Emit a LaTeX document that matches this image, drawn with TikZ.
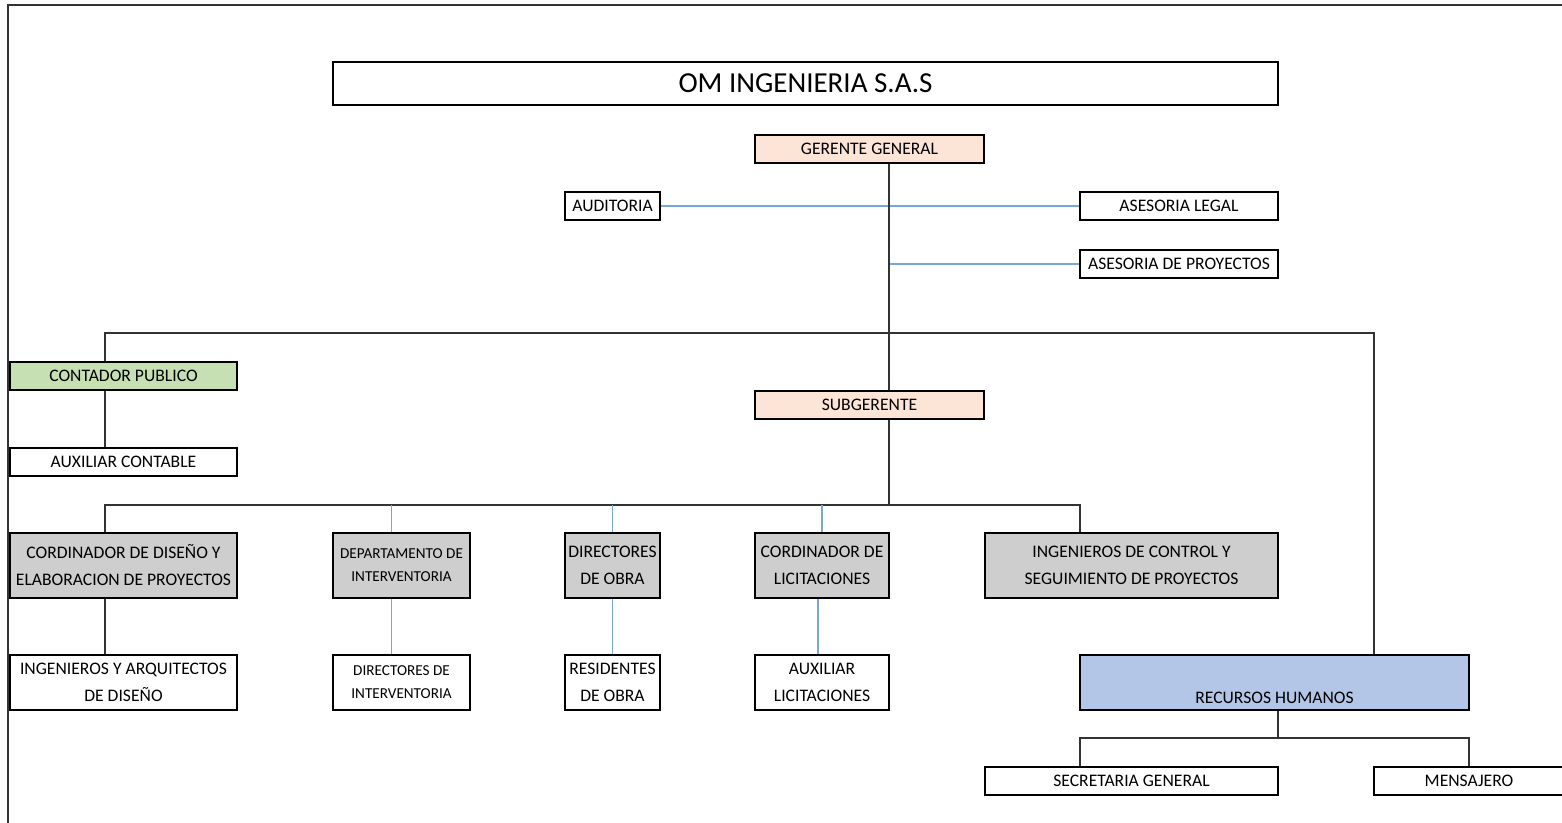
\documentclass[tikz,border=0pt]{standalone}
\usepackage{fontspec}
\setmainfont{Carlito}
\usepackage{tikz}
\usetikzlibrary{calc}
\usetikzlibrary{positioning}

\definecolor{peach}{RGB}{252,228,214}
\definecolor{leafgreen}{RGB}{198,224,180}
\definecolor{hrblue}{RGB}{180,198,231}
\definecolor{unitgray}{RGB}{206,206,206}
\definecolor{linkblue}{RGB}{120,168,218}

\begin{document}
\begin{tikzpicture}[x=0.5pt, y=-0.5pt,
  orgbox/.style={rectangle, draw=black, line width=1.4pt, inner sep=0pt, align=center,
    text=black, font=\fontsize{8.8}{13.5}\selectfont, minimum height=14pt},
  tallbox/.style={orgbox, minimum height=32.5pt},
  lowbox/.style={orgbox, minimum height=27.5pt},
  smalltext/.style={font=\fontsize{7.6}{11.5}\selectfont},
  tree/.style={draw=black!80, line width=0.6pt},
  link/.style={draw=linkblue, line width=0.6pt}]
 \useasboundingbox (0,0) rectangle (1562,823);
 % frame
 \draw [line width=1pt, black!80] (1570,5) -- (8,5) -- (8,830);
 % top levels
 \node [orgbox, minimum width=472.5pt, minimum height=21.5pt, font=\fontsize{14.5}{16}\selectfont] (title) at (805.5,83.5) {OM INGENIERIA S.A.S};
 \node [orgbox, fill=peach, minimum width=114.5pt] (gg) at (869.5,149) {GERENTE GENERAL};
 \node [orgbox, minimum width=47.5pt] (aud) at (612.5,206) {AUDITORIA};
 \node [orgbox, minimum width=99pt] (legal) at (1179,206) {ASESORIA LEGAL};
 \node [orgbox, minimum width=99pt] (aproy) at (1179,264) {ASESORIA DE PROYECTOS};
 \node [orgbox, fill=leafgreen, minimum width=113.5pt] (cont) at (123.5,376) {CONTADOR PUBLICO};
 \node [orgbox, minimum width=113.5pt] (auxc) at (123.5,462) {AUXILIAR CONTABLE};
 \node [orgbox, fill=peach, minimum width=114.5pt] (sub) at (869.5,405) {SUBGERENTE};
 % coordinators
 \node [tallbox, fill=unitgray, minimum width=113.5pt] (cdis) at (123.5,565.5) {CORDINADOR DE DISEÑO Y\\ELABORACION DE PROYECTOS};
 \node [tallbox, smalltext, fill=unitgray, minimum width=68.5pt] (dint) at (401.5,565.5) {DEPARTAMENTO DE\\INTERVENTORIA};
 \node [tallbox, fill=unitgray, minimum width=47.5pt] (dobra) at (612.5,565.5) {DIRECTORES\\DE OBRA};
 \node [tallbox, fill=unitgray, minimum width=67pt] (clic) at (822,565.5) {CORDINADOR DE\\LICITACIONES};
 \node [tallbox, fill=unitgray, minimum width=146.5pt] (ictrl) at (1131.5,565.5) {INGENIEROS DE CONTROL Y\\SEGUIMIENTO DE PROYECTOS};
 % staff
 \node [lowbox, minimum width=113.5pt] (iarq) at (123.5,682.5) {INGENIEROS Y ARQUITECTOS\\DE DISEÑO};
 \node [lowbox, smalltext, minimum width=68.5pt] (dirint) at (401.5,682.5) {DIRECTORES DE\\INTERVENTORIA};
 \node [lowbox, minimum width=47.5pt] (resob) at (612.5,682.5) {RESIDENTES\\DE OBRA};
 \node [lowbox, minimum width=67pt] (auxlic) at (822,682.5) {AUXILIAR\\LICITACIONES};
 \node [lowbox, fill=hrblue, minimum width=194.5pt] (rrhh) at (1274.5,682.5) {};
 \node [text=black, font=\fontsize{8.8}{13.5}\selectfont] (rrhhtext) at ([yshift=6.8pt]rrhh.south) {RECURSOS HUMANOS};
 \node [orgbox, minimum width=146.5pt] (sec) at (1131.5,781) {SECRETARIA GENERAL};
 \node [orgbox, minimum width=95pt] (mens) at (1469,781) {MENSAJERO};
 % junctions
 \coordinate (trunk) at (889,333);
 \coordinate (busL) at (105,333);
 \coordinate (busR) at (1374,333);
 \coordinate (bus2L) at (105,505);
 \coordinate (bus2R) at (1080,505);
 \coordinate (hrL) at (1080,738);
 \coordinate (hrM) at (1278,738);
 \coordinate (hrR) at (1469,738);
 % connectors
 \draw [link] (aud) -- (legal);
 \draw [link] (trunk |- aproy) -- (aproy.west);
 \draw [tree] (gg.south -| trunk) -- (sub.north -| trunk);
 \draw [tree] (cont.north -| busL) -- (busL) -- (busR) -- (rrhh.north -| busR);
 \draw [tree] (cont.south -| busL) -- (auxc.north -| busL);
 \draw [tree] (sub.south -| trunk) -- (trunk |- bus2L);
 \draw [tree] (cdis.north -| bus2L) -- (bus2L) -- (bus2R) -- (ictrl.north -| bus2R);
 \draw [link] ([xshift=-5pt]dint.north |- bus2L) -- ([xshift=-5pt]dint.north);
 \draw [link] (dobra.north |- bus2L) -- (dobra.north);
 \draw [link] (clic.north |- bus2L) -- (clic.north);
 \draw [tree] (cdis.south -| bus2L) -- (iarq.north -| bus2L);
 \draw [link] ([xshift=-5pt]dint.south) -- ([xshift=-5pt]dirint.north);
 \draw [link] (dobra.south) -- (resob.north);
 \draw [link] ([xshift=-2pt]clic.south) -- ([xshift=-2pt]auxlic.north);
 \draw [tree] (rrhh.south -| hrM) -- (hrM);
 \draw [tree] (sec.north -| hrL) -- (hrL) -- (hrR) -- (mens.north);
\end{tikzpicture}
\end{document}
